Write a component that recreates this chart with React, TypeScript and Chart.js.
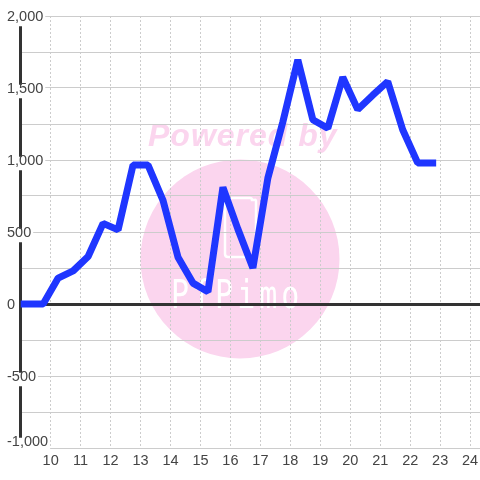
import React, { useEffect, useRef } from "react";
import { Chart, registerables } from "chart.js";

Chart.register(...registerables);

const hours = [8.75, 9.25, 9.75, 10.25, 10.75, 11.25, 11.75, 12.25, 12.75, 13.25, 13.75, 14.25, 14.75, 15.25, 15.75, 16.25, 16.75, 17.25, 17.75, 18.25, 18.75, 19.25, 19.75, 20.25, 20.75, 21.25, 21.75, 22.25, 22.75];
const values = [0, 0, 0, 180, 230, 330, 560, 515, 965, 965, 720, 325, 145, 85, 810, 520, 250, 875, 1265, 1695, 1280, 1220, 1575, 1350, 1450, 1545, 1210, 980, 980];
const hourTicks = [10, 11, 12, 13, 14, 15, 16, 17, 18, 19, 20, 21, 22, 23, 24];
const LINE = "#1f36ff";
const GRID = "#cccccc";
const AXIS = "#333333";
const TEXT = "#444444";

const watermark = {
  id: "watermark",
  beforeDraw(chart: any) {
    const yScale = chart.scales.y;
    if (!yScale.$shifted) {
      yScale.$shifted = true;
      const items = yScale.getLabelItems(chart.chartArea);
      items.forEach((item: any) => {
        const isBottom = item.label === "-1,000";
        item.options.translation[1] += isBottom ? -6 : 1;
      });
    }
    const ctx = chart.ctx;
    ctx.save();
    ctx.fillStyle = "#fbd5ee";
    ctx.beginPath();
    ctx.arc(240, 259, 99.5, 0, Math.PI * 2);
    ctx.fill();
    ctx.font = "italic bold 32px 'Liberation Sans'";
    ctx.textBaseline = "alphabetic";
    ctx.textAlign = "left";
    (ctx as any).letterSpacing = "1px";
    ctx.fillText("Powered by", 148, 146);
    (ctx as any).letterSpacing = "0px";
    ctx.strokeStyle = "#ffffff";
    ctx.lineWidth = 2.5;
    ctx.beginPath();
    ctx.moveTo(229, 198);
    ctx.lineTo(250, 198);
    ctx.quadraticCurveTo(252, 198, 252, 200);
    ctx.lineTo(254, 200);
    ctx.quadraticCurveTo(256, 199, 256, 201);
    ctx.lineTo(256, 255);
    ctx.quadraticCurveTo(256, 257, 254, 257);
    ctx.lineTo(228, 257);
    ctx.quadraticCurveTo(225, 257, 225, 254);
    ctx.lineTo(225, 201);
    ctx.quadraticCurveTo(225, 198, 229, 198);
    ctx.stroke();
    ctx.fillStyle = "#ffffff";
    ctx.translate(171, 308);
    ctx.scale(1, 1.3);
    ctx.font = "30px 'DejaVu Sans Mono'";
    (ctx as any).letterSpacing = "4px";
    ctx.fillText("PfPimo", 0, 0);
    ctx.restore();
  },
};

export default function App() {
  const ref = useRef<HTMLCanvasElement | null>(null);
  useEffect(() => {
    document.body.style.margin = "0";
    const chart = new Chart(ref.current as HTMLCanvasElement, {
      type: "line",
      data: {
        datasets: [
          {
            data: hours.map((h, i) => ({ x: h, y: values[i] })),
            borderColor: LINE,
            borderWidth: 7,
            borderJoinStyle: "bevel",
            borderCapStyle: "square",
            pointRadius: 0,
            tension: 0,
            fill: false,
          },
        ],
      },
      options: {
        animation: false,
        responsive: false,
        devicePixelRatio: 1,
        layout: { padding: { left: 7, top: 16, right: 0, bottom: 0 } },
        plugins: { legend: { display: false }, title: { display: false }, tooltip: { enabled: false } },
        scales: {
          x: {
            type: "linear",
            min: 9,
            max: 24.33,
            afterBuildTicks: (s: any) => {
              s.ticks = hourTicks.map((value) => ({ value }));
            },
            afterFit: (s: any) => {
              s.height = 32;
              s.paddingLeft = 0;
              s.paddingRight = 0;
            },
            border: { display: false, dash: [2, 2] },
            grid: { color: GRID, lineWidth: 1, drawTicks: false, tickLength: 0 },
            ticks: {
              autoSkip: false,
              maxRotation: 0,
              padding: 6,
              color: TEXT,
              font: { family: "'Liberation Sans'", size: 14.5, lineHeight: 1 },
              callback: (v: any) => String(v),
            },
          } as any,
          y: {
            type: "linear",
            min: -1000,
            max: 2000,
            afterFit: (s: any) => {
              s.width = 13.7;
            },
            border: { display: true, color: AXIS, width: 3 },
            grid: {
              drawTicks: false,
              tickLength: 0,
              color: (c: any) => (c.tick && c.tick.value === 0 ? AXIS : GRID),
              lineWidth: (c: any) => (c.tick && c.tick.value === 0 ? 3 : 1),
            },
            ticks: {
              stepSize: 250,
              autoSkip: false,
              mirror: true,
              padding: -13.7,
              color: TEXT,
              font: { family: "'Liberation Sans'", size: 14.5, lineHeight: 1 },
              showLabelBackdrop: true,
              backdropColor: "#ffffff",
              backdropPadding: { top: -3, bottom: 2, left: 2, right: 2 },
              callback: (v: any) => (v % 500 !== 0 ? "" : Number(v).toLocaleString("en-US")),
            },
          } as any,
        },
      },
      plugins: [watermark],
    } as any);
    return () => chart.destroy();
  }, []);
  return (
    <div style={{ position: "absolute", left: 0, top: 0, width: 480, height: 480 }}>
      <canvas ref={ref} width={480} height={480} style={{ display: "block" }} />
    </div>
  );
}
